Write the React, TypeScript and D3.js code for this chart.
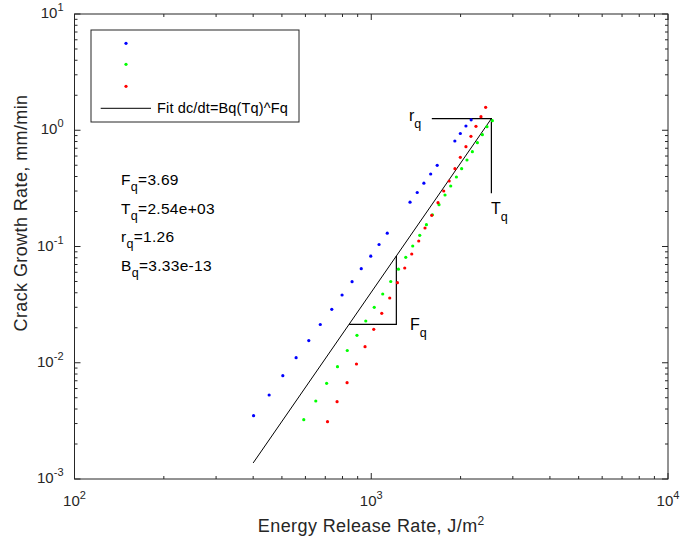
import React from "react";
import * as d3 from "d3";

// ---- Data ----
const blueE = [401.3, 452.8, 503.5, 558.2, 615.9, 673.4, 736.2, 797.4, 861.7, 925.3, 996.1, 1062.4, 1132.3, 1351, 1428.6, 1504.5, 1586, 1668.3, 1913, 1996.3, 2085, 2171];
const blueR = [0.003503, 0.00528, 0.007738, 0.01105, 0.01553, 0.02133, 0.02883, 0.03826, 0.04979, 0.06442, 0.08254, 0.104, 0.1301, 0.2405, 0.2914, 0.3503, 0.4204, 0.4995, 0.8083, 0.9376, 1.088, 1.23];

const greenE = [592.4, 650.3, 707.3, 769.5, 830.2, 895.1, 958.3, 1023.5, 1093.2, 1163.2, 1234.8, 1307, 1379.7, 1456.7, 1534.3, 1607.3, 1691.8, 1772.4, 1852.5, 1936, 2016.6, 2101.5, 2191.3, 2278.3, 2368.2, 2454.3, 2559];
const greenR = [0.003236, 0.004688, 0.006656, 0.009247, 0.01275, 0.01722, 0.02287, 0.03, 0.03903, 0.05, 0.06379, 0.08076, 0.101, 0.1248, 0.154, 0.1874, 0.2289, 0.2773, 0.3314, 0.396, 0.467, 0.5548, 0.654, 0.7815, 0.9156, 1.073, 1.209];

const redE = [712.2, 767.0, 828.9, 891.6, 953.0, 1019.5, 1084.9, 1154.1, 1225.2, 1296.8, 1369.2, 1445.5, 1517.6, 1598.5, 1678.6, 1754.6, 1830.9, 1914.7, 1996.3, 2085, 2167.7, 2253.7, 2342.8, 2429.6];
const redR = [0.003111, 0.004624, 0.006736, 0.009755, 0.01374, 0.0194, 0.02664, 0.03606, 0.04883, 0.06533, 0.0862, 0.1115, 0.1443, 0.1855, 0.2382, 0.3002, 0.366, 0.467, 0.5852, 0.722, 0.8872, 1.081, 1.308, 1.576];

const Fq = 3.69;
const Tq = 2540;
const rq = 1.26;
const BqText = "3.33e-13";
const TqText = "2.54e+03";
const fitStartE = 400;
const triE = [842, 1215];
const rqLineStartE = 1600;
const TqLineBottomR = 0.287;

const xMajor = [100, 1000, 10000];
const xMajorExp = ["2", "3", "4"];
const yMajor = [0.001, 0.01, 0.1, 1, 10];
const yMajorExp = ["-3", "-2", "-1", "0", "1"];

const legendLabel = "Fit dc/dt=Bq(Tq)^Fq";
const xLabel = "Energy Release Rate, J/m";
const yLabel = "Crack Growth Rate, mm/min";

const W = 683;
const H = 542;
const L = 74.5, R = 668, T = 14, B = 479;
const AX = "#262626";
const FONT = "'Liberation Sans', Arial, Helvetica, sans-serif";

export default function App() {
  const x = d3.scaleLog().domain([100, 10000]).range([L, R]);
  const y = d3.scaleLog().domain([0.001, 10]).range([B, T]);

  const xMinor: number[] = [];
  for (let d = 100; d < 10000; d *= 10) for (let k = 2; k <= 9; k++) xMinor.push(d * k);
  const yMinor: number[] = [];
  for (let d = 0.001; d < 9; d *= 10) for (let k = 2; k <= 9; k++) yMinor.push(d * k);

  const fitLine = (e: number) => rq * Math.pow(e / Tq, Fq);
  const line = d3.line<[number, number]>().x((d) => x(d[0])).y((d) => y(d[1]));

  const series = [
    { e: blueE, r: blueR, c: "#0000ff" },
    { e: greenE, r: greenR, c: "#00ff00" },
    { e: redE, r: redR, c: "#ff0000" },
  ];

  const majL = 6, minL = 3;
  const triY = fitLine(triE[0]);

  return (
    <svg width={W} height={H} style={{ position: "absolute", left: 0, top: 0, background: "#fff" }} fontFamily={FONT}>
      <rect x={0} y={0} width={W} height={H} fill="#fff" />
      {/* ticks */}
      <g stroke={AX} strokeWidth={1}>
        {xMinor.map((v, i) => (
          <g key={"xm" + i}>
            <line x1={x(v)} x2={x(v)} y1={B} y2={B - minL} />
            <line x1={x(v)} x2={x(v)} y1={T} y2={T + minL} />
          </g>
        ))}
        {xMajor.map((v, i) => (
          <g key={"xM" + i}>
            <line x1={x(v)} x2={x(v)} y1={B} y2={B - majL} />
            <line x1={x(v)} x2={x(v)} y1={T} y2={T + majL} />
          </g>
        ))}
        {yMinor.map((v, i) => (
          <g key={"ym" + i}>
            <line x1={L} x2={L + minL} y1={y(v)} y2={y(v)} />
            <line x1={R} x2={R - minL} y1={y(v)} y2={y(v)} />
          </g>
        ))}
        {yMajor.map((v, i) => (
          <g key={"yM" + i}>
            <line x1={L} x2={L + majL} y1={y(v)} y2={y(v)} />
            <line x1={R} x2={R - majL} y1={y(v)} y2={y(v)} />
          </g>
        ))}
      </g>
      <rect x={L} y={T} width={R - L} height={B - T} fill="none" stroke={AX} strokeWidth={1} />

      {/* tick labels */}
      <g fill={AX} fontSize={15}>
        {xMajor.map((v, i) => (
          <text key={"xl" + i} x={x(v)} y={B + 27} textAnchor="middle">
            10<tspan dy={-7} fontSize={11}>{xMajorExp[i]}</tspan>
          </text>
        ))}
        {yMajor.map((v, i) => (
          <text key={"yl" + i} x={L - 11} y={y(v) + 4} textAnchor="end">
            10<tspan dy={-7} fontSize={11}>{yMajorExp[i]}</tspan>
          </text>
        ))}
      </g>

      {/* axis labels */}
      <text x={(L + R) / 2} y={532} textAnchor="middle" fontSize={18} letterSpacing={0.4} fill={AX}>
        {xLabel}<tspan dy={-7} fontSize={12}>2</tspan>
      </text>
      <text transform={`translate(27,213) rotate(-90)`} textAnchor="middle" fontSize={18} letterSpacing={0.4} fill={AX}>
        {yLabel}
      </text>

      {/* fit line */}
      <path d={line([[fitStartE, fitLine(fitStartE)], [Tq, rq]]) || ""} fill="none" stroke="#000" strokeWidth={1} />
      {/* Fq triangle */}
      <path
        d={line([[triE[0], triY], [triE[1], triY], [triE[1], fitLine(triE[1])]]) || ""}
        fill="none"
        stroke="#000"
        strokeWidth={1.2}
      />
      {/* rq & Tq lines */}
      <path d={line([[rqLineStartE, rq], [Tq, rq], [Tq, TqLineBottomR]]) || ""} fill="none" stroke="#000" strokeWidth={1.2} />

      {/* data points */}
      {series.map((s, si) => (
        <g key={"s" + si} fill={s.c}>
          {s.e.map((e, i) => (
            <circle key={i} cx={x(e)} cy={y(s.r[i])} r={1.6} />
          ))}
        </g>
      ))}

      {/* labels at lines */}
      <g fill="#000" fontSize={16}>
        <text x={409} y={121}>r<tspan dy={7} fontSize={12.5}>q</tspan></text>
        <text x={491} y={214}>T<tspan dy={7} fontSize={12.5}>q</tspan></text>
        <text x={410} y={330}>F<tspan dy={7} fontSize={12.5}>q</tspan></text>
      </g>

      {/* parameter text */}
      <g fill="#000" fontSize={15.5} letterSpacing={0.3}>
        <text x={121} y={185}>F<tspan dy={6} fontSize={12.5}>q</tspan><tspan dy={-6}>={Fq.toFixed(2)}</tspan></text>
        <text x={121} y={213.5}>T<tspan dy={6} fontSize={12.5}>q</tspan><tspan dy={-6}>={TqText}</tspan></text>
        <text x={121} y={242}>r<tspan dy={6} fontSize={12.5}>q</tspan><tspan dy={-6}>={rq.toFixed(2)}</tspan></text>
        <text x={121} y={270.5}>B<tspan dy={6} fontSize={12.5}>q</tspan><tspan dy={-6}>={BqText}</tspan></text>
      </g>

      {/* legend */}
      <rect x={91} y={30} width={208} height={92} fill="#fff" stroke={AX} strokeWidth={1} />
      <circle cx={126} cy={43.3} r={1.6} fill="#0000ff" />
      <circle cx={126} cy={64.3} r={1.6} fill="#00ff00" />
      <circle cx={126} cy={86.3} r={1.6} fill="#ff0000" />
      <line x1={100.7} x2={151} y1={108.3} y2={108.3} stroke="#000" strokeWidth={1} />
      <text x={157} y={113} fontSize={14.5} letterSpacing={0.15} fill="#000">{legendLabel}</text>
    </svg>
  );
}
